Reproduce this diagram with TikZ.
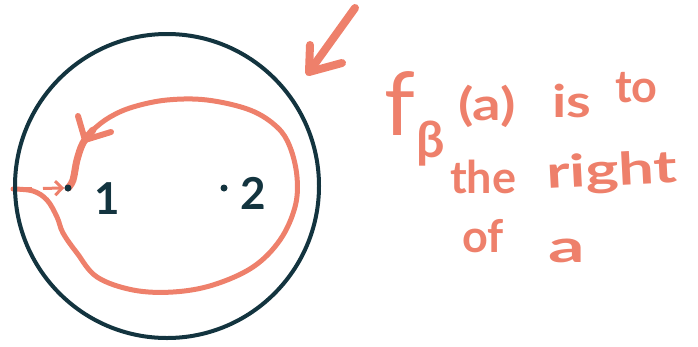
\documentclass[tikz,border=0pt]{standalone}
\usepackage{fontspec}
\setmainfont{Lato}
\usetikzlibrary{arrows.meta}
\definecolor{salmon}{HTML}{EE806B}
\definecolor{ink}{HTML}{13343F}
\pgfdeclarelayer{bg}
\pgfsetlayers{bg,main}
\begin{document}
\begin{tikzpicture}[x=1pt,y=-1pt,
  hand/.style={salmon, line width=5pt, line cap=round, line join=round},
  bigarrow/.style={salmon, line width=8pt, line cap=round, line join=round},
  word/.style={text=salmon, font=\bfseries\fontsize{45}{50}\selectfont, inner sep=0pt, anchor=base west},
  num/.style={text=ink, font=\bfseries\fontsize{44}{50}\selectfont, inner sep=0pt, anchor=base west},
  dot/.style={fill=ink, circle, inner sep=0pt, minimum size=7pt}]
\useasboundingbox (0,0) rectangle (698,346);
% outer circle
\node[draw=ink, line width=4pt, circle, inner sep=0pt, minimum size=304pt] (disk) at (167,186) {};
% points
\node[dot] (p1) at (68,188) {};
\node[dot] (p2) at (224,188) {};
\node[num] (n1) at (94,214) {1};
\node[num] (n2) at (240,209) {2};
\coordinate (edge) at (13,189);
\begin{pgfonlayer}{bg}
% loop
\draw[hand] plot[smooth, tension=0.6] coordinates {(edge) (33,191) (47,200) (57,217) (63,233) (77,253) (97,277) (133,290) (173,292) (213,285) (253,267) (280,240) (295,207) (297,177) (290,147) (277,127) (250,110) (207,100) (167,100) (133,107) (110,117) (93,130) (83,143) (77,160) (73,180) (p1)};
\draw[hand, line width=7pt] plot[smooth, tension=0.6] coordinates {(93,130) (83,143) (77,160) (73,180) (p1)};
\draw[hand, line width=6pt] (78,116) -- (85,140) -- (111,132);
% small dashed arrow
\draw[salmon, line width=3pt, dash pattern=on 19pt off 11pt, -{Straight Barb[length=7pt, width=14pt]}] (edge) -- (p1.west);
\end{pgfonlayer}
% big arrow
\coordinate (bigtail) at (355,8);
\coordinate (bighead) at (309,72);
\draw[bigarrow] (bigtail) -- (bighead);
\draw[bigarrow] (310,45) -- (bighead) -- (342,63);
% text
\node[word, font=\fontsize{88}{90}\selectfont] (f) at (384,135) {f};
\node[word, font=\bfseries\fontsize{50}{54}\selectfont] (beta) at (416,157) {β};
\node[word] (w1) at (458,120) {\scalebox{1.25}[1]{(a)}};
\node[word] (w2) at (552,117) {\scalebox{1.25}[1]{is}};
\node[word] (w3) at (615,102) {to};
\node[word] (w4) at (450,193) {the};
\node[word, rotate=3] (w5) at (547,189) {\scalebox{1.4}[1]{right}};
\node[word] (w6) at (462,252) {of};
\node[word] (w7) at (548,262) {\scalebox{1.6}[1]{a}};
\end{tikzpicture}
\end{document}
